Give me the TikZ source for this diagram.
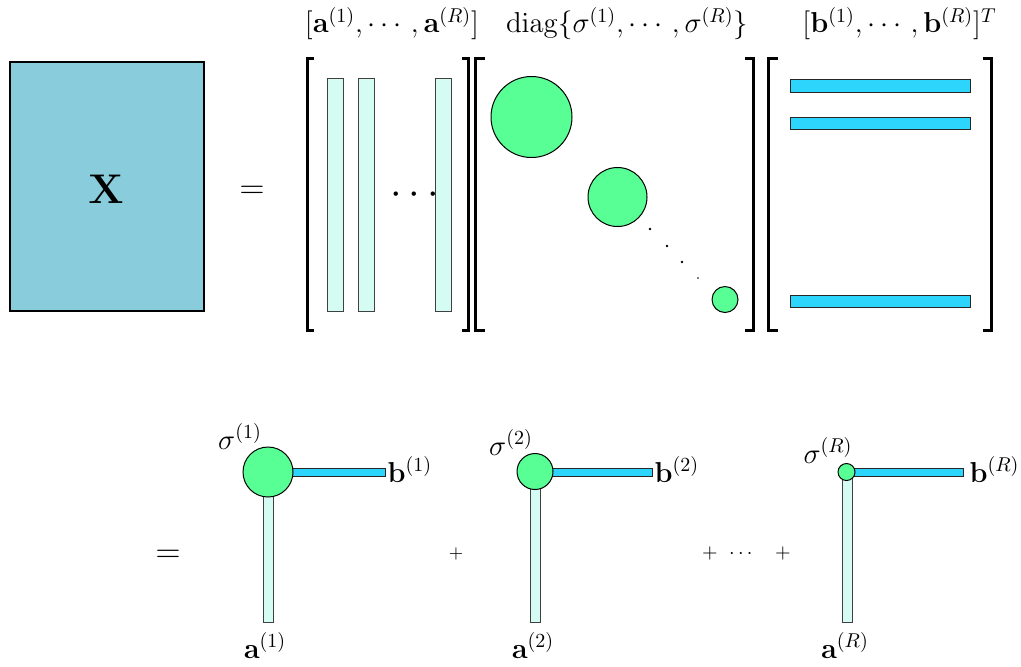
\documentclass[tikz,border=0pt]{standalone}
\usepackage{amsmath}
\definecolor{xfill}{RGB}{137,205,220}
\definecolor{afill}{RGB}{213,252,243}
\definecolor{sfill}{RGB}{87,255,149}
\definecolor{bfill}{RGB}{45,212,252}
\begin{document}
\begin{tikzpicture}[x=0.5pt,y=-0.5pt,
  abar/.style={fill=afill,draw=black!75,line width=0.5pt},
  bbar/.style={fill=bfill,draw=black!85,line width=0.5pt},
  sing/.style={circle,fill=sfill,draw=black,line width=0.5pt,inner sep=0pt},
  brk/.style={line width=1.5pt,line join=miter},
  lab/.style={anchor=base,inner sep=0pt,font=\Large},
  dotp/.style={fill=black}]
\useasboundingbox (0,0) rectangle (1021,666);

% X matrix
\node[draw=black,line width=1pt,fill=xfill,minimum width=97pt,minimum height=124.5pt,inner sep=0pt] (Xbox) at (107,186.5) {};
\node[anchor=base,inner sep=0pt,font=\huge] (Xlab) at (106,203) {$\mathbf{X}$};
\node[anchor=base,inner sep=0pt,font=\LARGE] (eqtop) at (252,198.5) {$=$};

% brackets
\draw[brk] (314,58.5) -- (307.5,58.5) -- (307.5,330) -- (314,330);
\draw[brk] (462,58.5) -- (468.5,58.5) -- (468.5,330) -- (462,330);
\draw[brk] (485,58.5) -- (475.5,58.5) -- (475.5,330) -- (485,330);
\draw[brk] (745,58.5) -- (753,58.5) -- (753,330) -- (745,330);
\draw[brk] (778,58.5) -- (768.5,58.5) -- (768.5,330) -- (778,330);
\draw[brk] (983,58.5) -- (991,58.5) -- (991,330) -- (983,330);

% A columns
\filldraw[abar] (327,78) rectangle (343,311);
\filldraw[abar] (358,78) rectangle (374,311);
\filldraw[abar] (435,78) rectangle (451,311);
\node[anchor=base,inner sep=0pt,font=\huge] (adots) at (418,204.5) {$\cdots$};

% diagonal
\node[sing,minimum size=40.5pt] (d1) at (531.5,117) {};
\node[sing,minimum size=29.5pt] (d2) at (617.5,197) {};
\node[sing,minimum size=13pt] (d3) at (725,299.5) {};
\fill[dotp] (650,229) circle[radius=0.7pt];
\fill[dotp] (667,246) circle[radius=0.7pt];
\fill[dotp] (682,262) circle[radius=0.7pt];
\fill[dotp] (698,278) circle[radius=0.45pt];

% B rows
\filldraw[bbar] (790,79) rectangle (970,92);
\filldraw[bbar] (790,117) rectangle (970,129.5);
\filldraw[bbar] (790,295) rectangle (970,307.5);

% top labels
\node[lab] (la) at (392,32.5) {$[\mathbf{a}^{(1)},\cdots,\mathbf{a}^{(R)}]$};
\node[lab] (ld) at (627,32.5) {$\mathrm{diag}\{\sigma^{(1)},\cdots,\sigma^{(R)}\}$};
\node[lab] (lb) at (899.5,32.5) {$[\mathbf{b}^{(1)},\cdots,\mathbf{b}^{(R)}]^T$};

% bottom row
\node[anchor=base,inner sep=0pt,font=\LARGE] (eqbot) at (168,562.5) {$=$};

% term 1
\filldraw[abar] (263,480) rectangle (273,622);
\filldraw[bbar] (280,468) rectangle (385,476);
\node[sing,minimum size=25pt] (s1) at (268,472) {};
\node[lab] (s1l) at (240,449) {$\sigma^{(1)}$};
\node[lab] (b1l) at (410,482) {$\mathbf{b}^{(1)}$};
\node[lab] (a1l) at (265,658) {$\mathbf{a}^{(1)}$};

\node[anchor=base,inner sep=0pt,font=\small] (p1) at (456,558) {$+$};

% term 2
\filldraw[abar] (530,480) rectangle (540,622);
\filldraw[bbar] (545,468) rectangle (652,476);
\node[sing,minimum size=18pt] (s2) at (535,471.5) {};
\node[lab] (s2l) at (511,455) {$\sigma^{(2)}$};
\node[lab] (b2l) at (677,482) {$\mathbf{b}^{(2)}$};
\node[lab] (a2l) at (533,658) {$\mathbf{a}^{(2)}$};

\node[anchor=base,inner sep=0pt] (p2) at (710,558) {$+$};
\node[anchor=base,inner sep=0pt] (pd) at (742.5,558) {$\cdots$};
\node[anchor=base,inner sep=0pt] (p3) at (783,558) {$+$};

% term R
\filldraw[abar] (842,475) rectangle (852,622);
\filldraw[bbar] (850,468) rectangle (963,476);
\node[sing,minimum size=8.5pt] (sR) at (846.5,472) {};
\node[lab] (sRl) at (828,463) {$\sigma^{(R)}$};
\node[lab] (bRl) at (994.5,482) {$\mathbf{b}^{(R)}$};
\node[lab] (aRl) at (845,658) {$\mathbf{a}^{(R)}$};
\end{tikzpicture}
\end{document}
